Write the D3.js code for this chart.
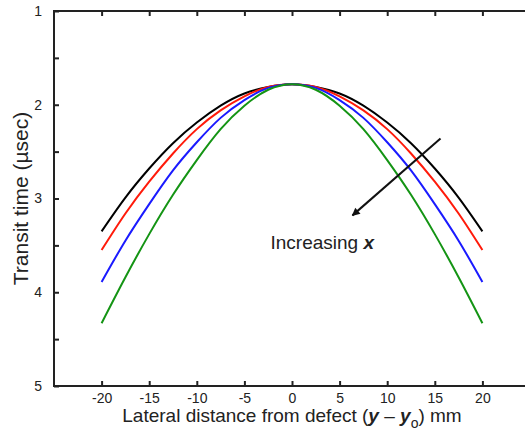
<!DOCTYPE html>
<html>
 <head>
  <meta charset="utf-8">
  <script src="https://d3js.org/d3.v7.min.js"></script>
  <style>
   body { margin: 0; background: #fff; }
   text { font-family: "Liberation Sans", Arial, sans-serif; fill: #222; }
   .tick line { stroke: #222; stroke-width: 2; }
   .curve { fill: none; stroke-width: 2; }
  </style>
 </head>
 <body>
  <script>
   // lateral distance (mm)
   var dist = [-20, -17.5, -15, -12.5, -10, -7.5, -5, -2.5, 0, 2.5, 5, 7.5, 10, 12.5, 15, 17.5, 20];
   // transit time (usec) for each curve
   var tBlack = [3.35, 2.99, 2.68, 2.41, 2.19, 2.01, 1.88, 1.81, 1.78, 1.81, 1.88, 2.01, 2.19, 2.41, 2.68, 2.99, 3.35];
   var tRed   = [3.55, 3.16, 2.82, 2.52, 2.26, 2.06, 1.91, 1.81, 1.78, 1.81, 1.91, 2.06, 2.26, 2.52, 2.82, 3.16, 3.55];
   var tBlue  = [3.89, 3.45, 3.06, 2.70, 2.40, 2.14, 1.95, 1.82, 1.78, 1.82, 1.95, 2.14, 2.40, 2.70, 3.06, 3.45, 3.89];
   var tGreen = [4.33, 3.84, 3.38, 2.96, 2.59, 2.26, 2.01, 1.84, 1.78, 1.84, 2.01, 2.26, 2.59, 2.96, 3.38, 3.84, 4.33];
   var series = [
    {name: "black", color: "#000000", values: tBlack},
    {name: "red",   color: "#ff1a0a", values: tRed},
    {name: "blue",  color: "#1a1aff", values: tBlue},
    {name: "green", color: "#149414", values: tGreen}
   ];
   var xTicks = [-20, -15, -10, -5, 0, 5, 10, 15, 20];
   var yTicks = [1, 1.5, 2, 2.5, 3, 3.5, 4, 4.5, 5];
   // arrow (data coords) and annotation
   var arrowFrom = [15.6, 2.36], arrowTo = [6.35, 3.18];
   var notePos = [-2.26, 3.54];

   var w = 525, h = 432;
   var padL = 54, padR = 530, padT = 11, padB = 386;

   var svg = d3.select("body").append("svg")
               .attr("width", w)
               .attr("height", h);

   var x = d3.scaleLinear().domain([-25, 25]).range([padL, padR]);
   var y = d3.scaleLinear().domain([1, 5]).range([padT, padB]);

   var fmtY = function(d) { return d % 1 === 0 ? String(d) : ""; };
   var fmtX = function(d) { return String(d); };

   // axes with inward ticks on all four sides
   svg.append("g").attr("transform", "translate(" + padL + ",0)")
      .call(d3.axisLeft(y).tickValues(yTicks).tickFormat(fmtY).tickSize(-5).tickPadding(12));
   svg.append("g").attr("transform", "translate(" + padR + ",0)")
      .call(d3.axisRight(y).tickValues(yTicks).tickFormat("").tickSize(-5));
   svg.append("g").attr("transform", "translate(0," + padB + ")")
      .call(d3.axisBottom(x).tickValues(xTicks).tickFormat(fmtX).tickSize(-5).tickPadding(7));
   svg.append("g").attr("transform", "translate(0," + padT + ")")
      .call(d3.axisTop(x).tickValues(xTicks).tickFormat("").tickSize(-5));
   svg.selectAll(".domain").remove();
   svg.selectAll(".tick text").attr("font-size", 14).attr("fill", "#222")
      .style("font-family", "'Liberation Sans', Arial, sans-serif");

   // frame
   svg.append("rect")
      .attr("x", padL).attr("y", padT)
      .attr("width", padR - padL).attr("height", padB - padT)
      .attr("fill", "none").attr("stroke", "#222").attr("stroke-width", 2);

   // curves
   var line = d3.line()
                .x(function(d, i) { return x(dist[i]); })
                .y(function(d) { return y(d); })
                .curve(d3.curveNatural);
   svg.selectAll(".curve")
      .data(series)
      .enter()
      .append("path")
      .attr("class", "curve")
      .attr("stroke", function(d) { return d.color; })
      .attr("d", function(d) { return line(d.values); });

   // arrow
   svg.append("defs").append("marker")
      .attr("id", "head")
      .attr("viewBox", "0 0 10 10")
      .attr("refX", 9).attr("refY", 5)
      .attr("markerWidth", 9).attr("markerHeight", 8)
      .attr("markerUnits", "userSpaceOnUse")
      .attr("orient", "auto")
      .append("path").attr("d", "M0,0L10,5L0,10z").attr("fill", "#111");
   svg.append("line")
      .attr("x1", x(arrowFrom[0])).attr("y1", y(arrowFrom[1]))
      .attr("x2", x(arrowTo[0])).attr("y2", y(arrowTo[1]))
      .attr("stroke", "#111").attr("stroke-width", 2)
      .attr("marker-end", "url(#head)");

   var note = svg.append("text")
      .attr("x", x(notePos[0])).attr("y", y(notePos[1]))
      .attr("font-size", 19);
   note.append("tspan").text("Increasing ");
   note.append("tspan").attr("font-weight", "bold").attr("font-style", "italic").text("x");

   // axis titles
   var xl = svg.append("text")
      .attr("x", x(0)).attr("y", 422)
      .attr("text-anchor", "middle")
      .attr("font-size", 19);
   xl.append("tspan").text("Lateral distance from defect (");
   xl.append("tspan").attr("font-weight", "bold").attr("font-style", "italic").text("y");
   xl.append("tspan").text(" \u2013 ");
   xl.append("tspan").attr("font-weight", "bold").attr("font-style", "italic").text("y");
   xl.append("tspan").attr("font-size", 14).attr("dy", 6).text("o");
   xl.append("tspan").attr("dy", -6).text(") mm");

   svg.append("text")
      .attr("transform", "translate(28," + y(3) + ") rotate(-90)")
      .attr("text-anchor", "middle")
      .attr("font-size", 21)
      .text("Transit time (\u00b5sec)");
  </script>
 </body>
</html>
